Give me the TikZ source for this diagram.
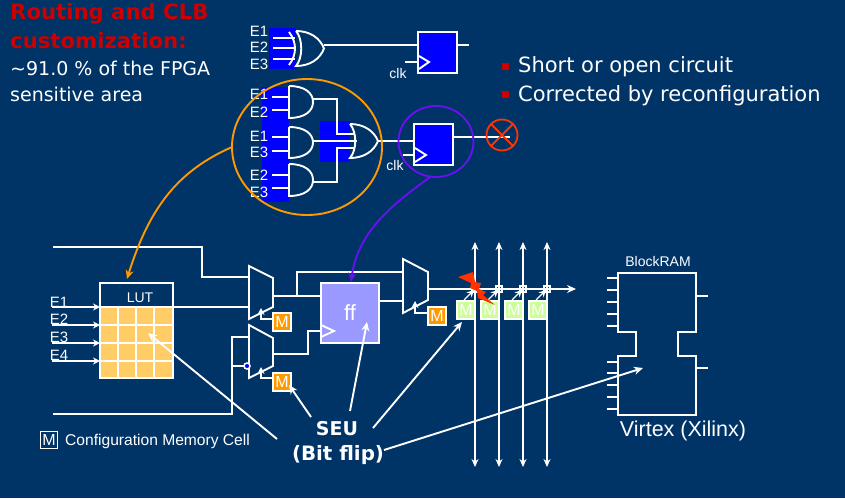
\documentclass[tikz,border=0pt]{standalone}
\usepackage{fontspec}
\setmainfont{DejaVu Sans}
\newfontfamily\labelfont{Liberation Sans}
\usetikzlibrary{arrows.meta}
\definecolor{bgblue}{HTML}{003366}
\definecolor{gateblue}{HTML}{0000FF}
\definecolor{ffblue}{HTML}{9999FF}
\definecolor{lutorange}{HTML}{FFCC66}
\definecolor{cellorange}{HTML}{FF9900}
\definecolor{cellgreen}{HTML}{CCFF99}
\definecolor{hotred}{HTML}{FF3300}
\definecolor{headred}{HTML}{CC0000}
\definecolor{ringviolet}{HTML}{6611EE}
\tikzset{
  wire/.style={draw=white, line width=1.9pt},
  seuarrow/.style={wire, -{Stealth[length=9pt,width=8pt]}},
  smallarrow/.style={wire, line width=1.5pt, -{Stealth[length=7pt,width=7pt]}},
  ffbox/.style={draw=white, line width=1.9pt, fill=gateblue, inner sep=0pt},
  cell/.style={draw=white, line width=1.5pt, inner sep=0pt, minimum size=18pt, text=white, font=\labelfont\fontsize{16}{16}\selectfont},
  lab/.style={text=white, inner sep=0pt, font=\labelfont\fontsize{15}{15}\selectfont},
  big/.style={text=white, inner sep=0pt, anchor=west, font=\fontsize{21}{21}\selectfont},
  head/.style={text=headred, inner sep=0pt, anchor=west, font=\bfseries\fontsize{21.2}{21.2}\selectfont},
}
% and gate: x, top y, bottom y
\newcommand{\andgate}[3]{
  \draw[wire, fill=none] (#1,#2) -- (#1,#3) .. controls (#1+16,#3) and (#1+24,#3-7) .. (#1+24,{(#2+#3)/2})
    .. controls (#1+24,#2+7) and (#1+16,#2) .. (#1,#2);
}
% or gate: x, top y, bottom y
\newcommand{\orgate}[3]{
  \draw[wire] (#1,#2) .. controls (#1+7,#2+8) and (#1+7,#3-8) .. (#1,#3)
    .. controls (#1+14,#3) and (#1+24,#3-7) .. (#1+28,{(#2+#3)/2})
    .. controls (#1+24,#2+7) and (#1+14,#2) .. (#1,#2);
}
\begin{document}
\begin{tikzpicture}[x=1pt,y=-1pt]
  \useasboundingbox (0,0) rectangle (845,498);
  \fill[bgblue] (0,0) rectangle (845,498);

  % header texts
  \node[head] (title1) at (10,14) {Routing and CLB};
  \node[head] (title2) at (10,41) {customization:};
  \node[big, font=\fontsize{19}{19}\selectfont] (area1) at (10,68) {\textasciitilde 91.0 \% of the FPGA};
  \node[big, font=\fontsize{19}{19}\selectfont] (area2) at (10,94) {sensitive area};
  \node[fill=headred, minimum size=7pt, inner sep=0pt] (bull1) at (505,66) {};
  \node[fill=headred, minimum size=7pt, inner sep=0pt] (bull2) at (505,94) {};
  \node[big, anchor=west] (short) at (518,67) {Short or open circuit};
  \node[big, anchor=west] (fixed) at (518,96) {Corrected by reconfiguration};

  % xor with flip flop
  \fill[gateblue] (269,28) rectangle (296,69);
  \foreach \yy/\nn in {31/E1, 47/E2, 64/E3}
    \node[lab] at (259,\yy) {\nn};
  \foreach \yy in {38,48,59}
    \draw[wire] (273,\yy) -- (295,\yy);
  \draw[wire] (289,32) .. controls (297,42) and (297,55) .. (289,65);
  \orgate{296}{31}{66}
  \node[ffbox, minimum width=39pt, minimum height=41pt] (ff1) at (437.5,52.5) {};
  \coordinate (orout1) at (324,45);
  \coordinate (ffin1) at (418,45);
  \coordinate (ffout1) at (457,45);
  \coordinate (ffend1) at (469,45);
  \draw[wire] (orout1) -- (ffin1);
  \draw[wire] (ffout1) -- (ffend1);
  \draw[wire] (405,62) -- (419,62);
  \draw[wire] (419,56) -- (429,62) -- (419,69);
  \node[lab, font=\labelfont\fontsize{14}{14}\selectfont] (clk1) at (398,73) {clk};

  % and-or with flip flop
  \fill[gateblue] (262,87) rectangle (289,202);
  \fill[gateblue] (320,121) rectangle (350,162);
  \foreach \yy/\nn in {94/E1, 112/E2, 136/E1, 152/E3, 175/E2, 192/E3}
    \node[lab] at (259,\yy) {\nn};
  \foreach \yy in {97,110,137,151,175,188}
    \draw[wire] (272,\yy) -- (289,\yy);
  \andgate{289}{86}{118}
  \andgate{289}{127}{158}
  \andgate{289}{164}{196}
  \draw[wire] (313,99) -- (337,99) -- (337,134) -- (355,134);
  \draw[wire] (313,182) -- (337,182) -- (337,148) -- (355,148);
  \draw[wire] (313,141) -- (357,141);
  \orgate{350}{124}{158}
  \node[ffbox, minimum width=39pt, minimum height=41pt] (ff2) at (433.5,144.5) {};
  \coordinate (orout2) at (378,141);
  \coordinate (ffin2) at (414,141);
  \coordinate (ffout2) at (453,137);
  \coordinate (cut) at (510,137);
  \draw[wire] (orout2) -- (ffin2);
  \draw[wire] (ffout2) -- (cut);
  \draw[wire] (403,155) -- (415,155);
  \draw[wire] (415,148) -- (426,155) -- (415,162);
  \node[lab, font=\labelfont\fontsize{14}{14}\selectfont] (clk2) at (395,165) {clk};
  \node[draw=hotred, line width=1.8pt, circle, minimum size=31pt, inner sep=0pt] (open) at (502,135) {};
  \draw[hotred, line width=1.8pt] (open.north west) -- (open.south east);
  \draw[hotred, line width=1.8pt] (open.north east) -- (open.south west);

  % rings
  \draw[cellorange, line width=1.9pt] (307,147) ellipse [x radius=75, y radius=68];
  \draw[ringviolet, line width=1.9pt] (436,141.5) ellipse [x radius=37.5, y radius=35.5];

  % lut
  \node[draw=white, line width=1.9pt, minimum width=73pt, minimum height=95pt, inner sep=0pt] (lut) at (136.5,330.5) {};
  \fill[lutorange] (100,307) rectangle (173,378);
  \foreach \xx in {118,136,154}
    \draw[wire] (\xx,307) -- (\xx,378);
  \foreach \yy in {307,325,343,361}
    \draw[wire] (100,\yy) -- (173,\yy);
  \draw[wire] (100,283) rectangle (173,378);
  \node[lab, font=\labelfont\fontsize{14}{14}\selectfont] (luttext) at (140,298) {LUT};
  \foreach \yy/\nn/\ll in {307/E1/302, 325/E2/319, 343/E3/337, 361/E4/355} {
    \node[lab] at (59,\ll) {\nn};
    \draw[wire, line width=1.4pt, -{Stealth[length=7pt,width=7pt]}] (52,\yy) -- (100,\yy);
  }

  % muxes
  \draw[wire] (249,266) -- (273,278) -- (273,307) -- (249,319) -- cycle;
  \draw[wire] (249,325) -- (273,338) -- (273,366) -- (249,378) -- cycle;
  \draw[wire] (403,259) -- (428,272) -- (428,300) -- (403,313) -- cycle;

  % flip flop of the slice
  \node[draw=white, line width=1.9pt, fill=ffblue, minimum width=58pt, minimum height=60pt, inner sep=0pt, text=white, font=\labelfont\fontsize{22}{22}\selectfont] (ff) at (350,313) {ff};
  \draw[wire] (321,325) -- (334,331) -- (321,337);

  % wires
  \draw[wire] (53,247) -- (202,247) -- (202,277) -- (249,277);
  \draw[wire] (173,307) -- (249,307);
  \draw[wire] (273,296) -- (321,296);
  \draw[wire] (297,296) -- (297,272) -- (403,272);
  \draw[wire] (273,354) -- (308,354) -- (308,331) -- (321,331);
  \draw[wire] (53,414) -- (232,414) -- (232,337) -- (249,337);
  \draw[wire] (232,366) -- (244,366);
  \node[draw=white, fill=gateblue, line width=1.5pt, circle, minimum size=6pt, inner sep=0pt] (inv) at (247,366) {};
  \draw[wire] (379,301) -- (403,301);
  \draw[wire, -{Stealth[length=9pt,width=8pt]}] (428,289) -- (576,289);

  % config cells of the muxes
  \node[cell, fill=cellorange] (m1) at (282,322) {M};
  \node[cell, fill=cellorange] (m2) at (282,382) {M};
  \node[cell, fill=cellorange] (m3) at (437,316) {M};
  \draw[smallarrow] (m1.west |- 0,319) -- (261,319) -- (261,308);
  \draw[smallarrow] (m2.west |- 0,378) -- (261,378) -- (261,367);
  \draw[smallarrow] (m3.west |- 0,313) -- (415,313) -- (415,301);

  % routing matrix
  \foreach \xx/\mm in {475/g1, 499/g2, 523/g3, 547/g4} {
    \draw[wire, line width=1.6pt, {Stealth[length=8pt,width=7pt]}-{Stealth[length=8pt,width=7pt]}] (\xx,242) -- (\xx,467);
    \node[cell, fill=cellgreen, text=white, minimum size=18pt] (\mm) at (\xx-9,310) {M};
    \node[draw=white, line width=1.2pt, minimum size=6pt, inner sep=0pt] (\mm sw) at (\xx,289) {};
    \draw[smallarrow, line width=1.3pt] (\xx-11,300) -- (\xx-1,290);
  }
  \fill[hotred] (458,277) -- (473,272) -- (475,282) -- (481,283) -- (479,289) -- (486,292) -- (483,295)
    -- (495,305) -- (478,298) -- (477,291) -- (470,288) -- (471,283) -- cycle;

  % block ram
  \draw[wire] (618,273) -- (696,273) -- (696,332) -- (678,332) -- (678,356) -- (696,356) -- (696,415)
    -- (618,415) -- (618,356) -- (636,356) -- (636,332) -- (618,332) -- cycle;
  \foreach \yy in {278,290,302,314,326,362,373,385,397,409}
    \draw[wire, line width=1.4pt] (607,\yy) -- (618,\yy);
  \foreach \yy in {296,368}
    \draw[wire, line width=1.4pt] (696,\yy) -- (708,\yy);
  \node[lab, font=\labelfont\fontsize{14}{14}\selectfont] (bram) at (658,261) {BlockRAM};
  \node[lab, font=\labelfont\fontsize{21.5}{21.5}\selectfont] (virtex) at (683,431) {Virtex (Xilinx)};

  % legend
  \node[cell, fill=none, minimum size=17pt] (mleg) at (49,440) {M};
  \node[lab, anchor=west, font=\labelfont\fontsize{15.6}{15.6}\selectfont] (legend) at (65,441) {Configuration Memory Cell};

  % seu
  \node[text=white, inner sep=0pt, font=\bfseries\fontsize{19}{19}\selectfont] (seu) at (337,429) {SEU};
  \node[text=white, inner sep=0pt, font=\bfseries\fontsize{19.8}{19.8}\selectfont] (flip) at (338,455) {(Bit flip)};
  \coordinate (lutcell) at (148,333);
  \coordinate (ffcell) at (367,322);
  \coordinate (mcell) at (289,385);
  \coordinate (gcell) at (462,322);
  \coordinate (ramcell) at (643,368);
  \draw[seuarrow] (277,439) -- (lutcell);
  \draw[seuarrow] (311,417) -- (mcell);
  \draw[seuarrow] (350,411) -- (ffcell);
  \draw[seuarrow] (373,428) -- (gcell);
  \draw[seuarrow] (384,450) -- (ramcell);

  % pointers from the rings
  \draw[cellorange, line width=1.9pt, -{Stealth[length=9pt,width=8pt]}] (232,147) .. controls (180,170) and (150,205) .. (127,279);
  \draw[ringviolet, line width=1.9pt, -{Stealth[length=9pt,width=8pt]}] (430,177) .. controls (395,203) and (358,230) .. (351,282);
\end{tikzpicture}
\end{document}
